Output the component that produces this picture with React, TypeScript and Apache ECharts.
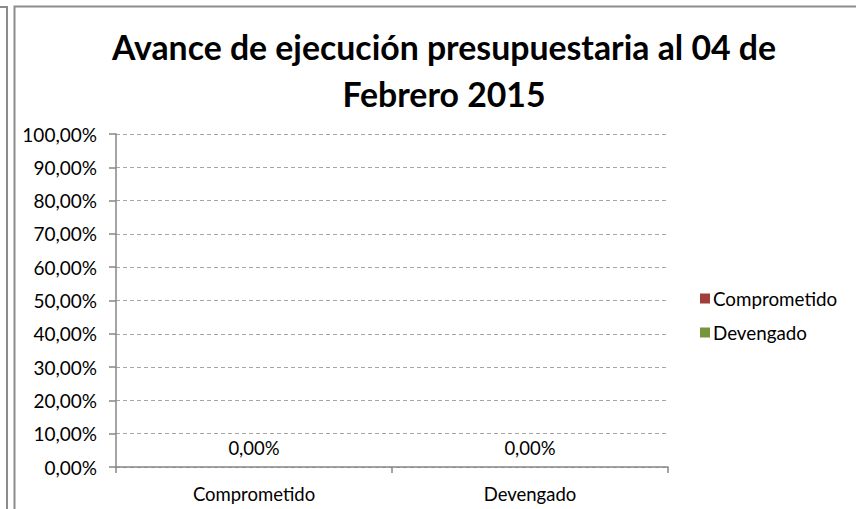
import React, { useEffect, useRef } from "react";
import * as echarts from "echarts";

const categories = ["Comprometido", "Devengado"];
const seriesNames = ["Comprometido", "Devengado"];
const comprometidoValues: (number | string)[] = [0, "-"];
const devengadoValues: (number | string)[] = ["-", 0];
const yTicks = [0, 10, 20, 30, 40, 50, 60, 70, 80, 90, 100];
const titleLines = ["Avance de ejecución presupuestaria al 04 de", "Febrero 2015"];

const FONT = "Lato, 'Open Sans', sans-serif";
const fmt = (v: number) => v.toFixed(2).replace(".", ",") + "%";

export default function App() {
  const ref = useRef<HTMLDivElement>(null);
  useEffect(() => {
    if (!ref.current) return;
    const chart = echarts.init(ref.current, undefined, { renderer: "svg" });
    const labelCfg = {
      show: true,
      position: "top" as const,
      distance: 10,
      color: "#000",
      fontFamily: FONT,
      fontSize: 18.5,
      formatter: (p: any) => fmt(Number(p.value)),
    };
    chart.setOption({
      animation: false,
      backgroundColor: "#fff",
      textStyle: { fontFamily: FONT },
      title: titleLines.map((t, i) => ({
        text: t,
        left: 439,
        top: 25 + i * 47,
        textAlign: "center",
        textStyle: { fontFamily: FONT, fontSize: 33.8, fontWeight: "bold", color: "#000" },
      })),
      legend: {
        orient: "vertical",
        left: 695,
        top: 284,
        itemWidth: 10,
        itemHeight: 10,
        itemGap: 15,
        icon: "rect",
        textStyle: { fontFamily: FONT, fontSize: 18.8, color: "#000", padding: [0, 0, 0, -2] },
        data: seriesNames,
      },
      grid: { left: 116, top: 134, right: 188, bottom: 42 },
      xAxis: {
        type: "category",
        data: categories,
        axisLine: { lineStyle: { color: "#868686", width: 1.5 } },
        axisTick: { show: true, length: 6, lineStyle: { color: "#868686", width: 1.5 } },
        axisLabel: { color: "#000", fontFamily: FONT, fontSize: 18.5, margin: 17 },
      },
      yAxis: {
        type: "value",
        min: 0,
        max: 100,
        interval: 10,
        axisLine: { show: true, lineStyle: { color: "#868686", width: 1.5 } },
        axisTick: { show: true, length: 7, lineStyle: { color: "#868686", width: 1.5 } },
        axisLabel: {
          color: "#000",
          fontFamily: FONT,
          fontSize: 19,
          margin: 19,
          formatter: (v: number) => (yTicks.includes(v) ? fmt(v) : ""),
        },
        splitLine: { lineStyle: { color: "#A6A6A6", type: [4, 3], width: 1 } },
      },
      series: [
        {
          name: seriesNames[0],
          type: "bar",
          stack: "all",
          barWidth: "60%",
          data: comprometidoValues,
          itemStyle: { color: "#A13E3B" },
          label: labelCfg,
        },
        {
          name: seriesNames[1],
          type: "bar",
          stack: "all",
          barWidth: "60%",
          data: devengadoValues,
          itemStyle: { color: "#78953D" },
          label: labelCfg,
        },
      ],
      graphic: [
        {
          type: "rect",
          shape: { x: 14.5, y: 6.5, width: 900, height: 600 },
          style: { fill: "none", stroke: "#8C8C8C", lineWidth: 2 },
          silent: true,
        },
        {
          type: "polyline",
          shape: { points: [[0, 7], [7, 7], [7, 520]] },
          style: { fill: "none", stroke: "#8C8C8C", lineWidth: 2 },
          silent: true,
        },
      ],
    });
    return () => chart.dispose();
  }, []);
  return (
    <div
      ref={ref}
      style={{ position: "absolute", left: 0, top: 0, width: 856, height: 509 }}
    />
  );
}
